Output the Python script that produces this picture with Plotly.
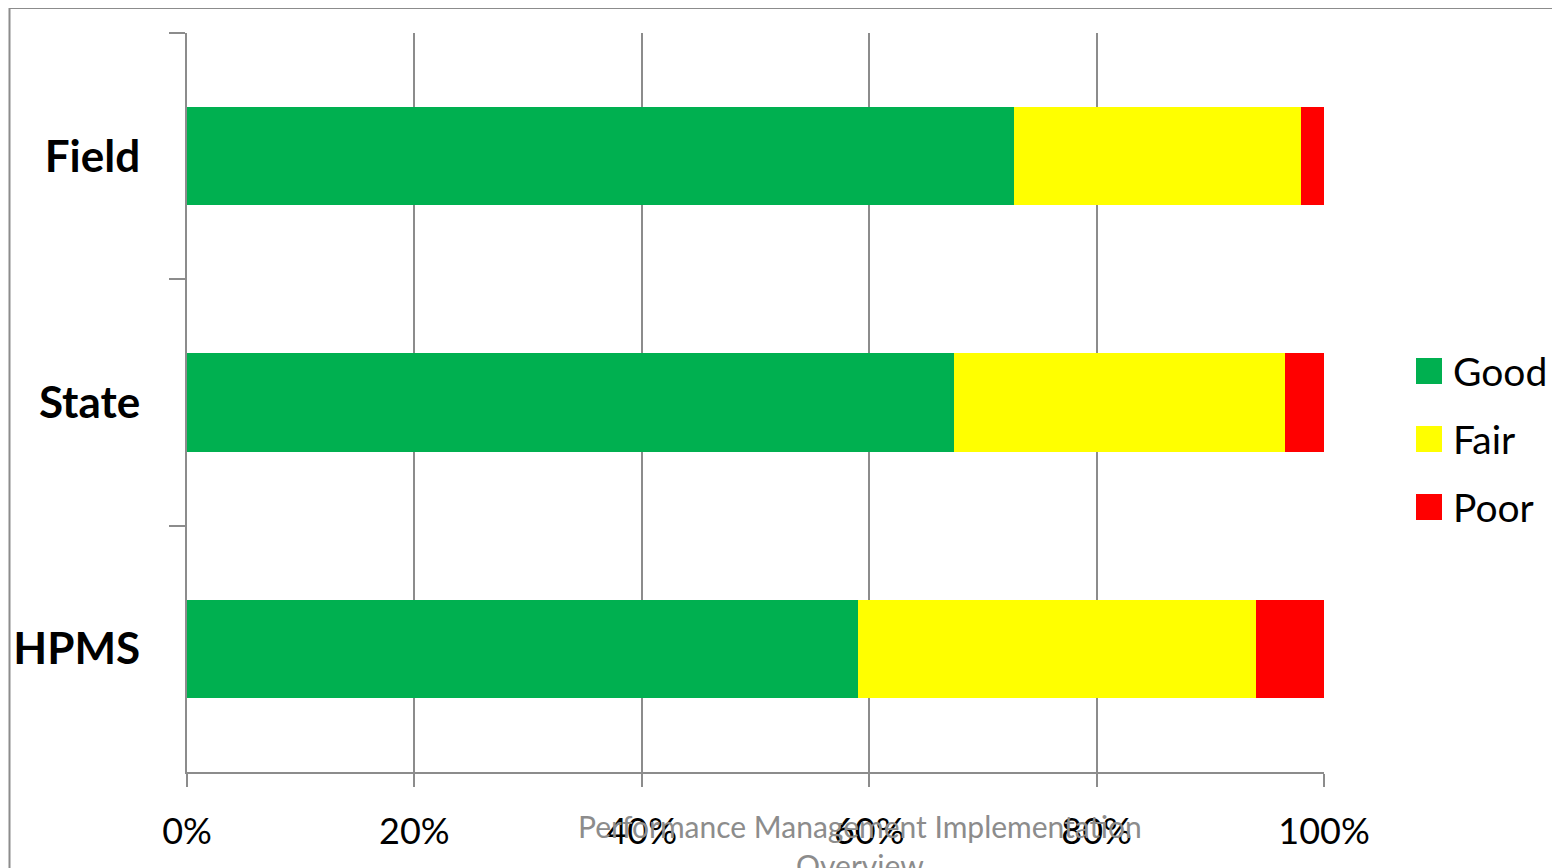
import plotly.graph_objects as go

categories = ["Field", "State", "HPMS"]
series_names = ["Good", "Fair", "Poor"]
good = [0.727, 0.675, 0.590]
fair = [0.253, 0.291, 0.350]
poor = [0.020, 0.034, 0.060]
colors = ["#00B050", "#FFFF00", "#FF0000"]
x_ticks = [0, 0.2, 0.4, 0.6, 0.8, 1.0]
x_tick_labels = ["0%", "20%", "40%", "60%", "80%", "100%"]
footer = "Performance Management Implementation<br>Overview"

FONT = "Lato, Calibri, sans-serif"
GRID = "#8c8c8c"

# page has an 8px body margin; plot area in page pixels: x 187..1324, y 33..772
OFF = 8
PW, PH = 1137, 739
L, T = 187 - OFF, 33 - OFF

fig = go.Figure()
for name, vals, col in zip(series_names, [good, fair, poor], colors):
    fig.add_trace(go.Bar(
        y=categories, x=vals, name=name, orientation="h",
        marker=dict(color=col, line=dict(width=0)),
        showlegend=False,
    ))

def px(x):
    return (x - 187) / PW

def py(y):
    return (772 - y) / PH

# manual legend (large square swatches as in reference)
shapes = []
annotations = []
for i, (name, col) in enumerate(zip(series_names, colors)):
    cy = py(371 + 68 * i)
    shapes.append(dict(type="rect", xref="paper", yref="paper",
                       x0=px(1416), x1=px(1442), y0=cy - 13 / PH, y1=cy + 13 / PH,
                       fillcolor=col, line=dict(width=0)))
    annotations.append(dict(xref="paper", yref="paper", x=px(1451), y=cy,
                            xanchor="left", yanchor="middle", text=name, showarrow=False,
                            font=dict(family=FONT, size=39, color="#000000")))

# outer chart frame (left edge kept just inside the figure so it stays visible)
shapes.append(dict(type="rect", xref="paper", yref="paper",
                   x0=px(9.5), x1=1.4, y0=-0.4, y1=py(8),
                   line=dict(color=GRID, width=2), fillcolor="rgba(0,0,0,0)", layer="below"))

annotations.append(dict(xref="paper", yref="paper", x=px(860), y=py(806),
                        xanchor="center", yanchor="top", text=footer, showarrow=False,
                        align="center",
                        font=dict(family=FONT, size=30, color="#8c8c8c")))

fig.update_layout(
    width=1560 - OFF, height=868 - OFF,
    margin=dict(l=L, r=1560 - OFF - L - PW, t=T, b=868 - OFF - T - PH, pad=0),
    paper_bgcolor="white", plot_bgcolor="white",
    barmode="stack", bargap=0.6,
    shapes=shapes, annotations=annotations,
    font=dict(family=FONT, color="#000000"),
)
fig.update_xaxes(
    range=[0, 1], tickvals=x_ticks, ticktext=x_tick_labels,
    showgrid=True, gridcolor=GRID, gridwidth=2,
    showline=True, linecolor=GRID, linewidth=2,
    ticks="outside", ticklen=13, tickcolor=GRID, tickwidth=2,
    ticklabelstandoff=14,
    tickfont=dict(family=FONT, size=36, color="#000000"),
    zeroline=False, fixedrange=True, automargin=False,
)
fig.update_yaxes(
    categoryorder="array", categoryarray=categories, autorange="reversed",
    showgrid=False, showline=True, linecolor=GRID, linewidth=2,
    ticks="outside", ticklen=16, tickcolor=GRID, tickwidth=2, tickson="boundaries",
    tickfont=dict(family=FONT, size=44, color="#000000", weight="bold"),
    ticklabelstandoff=36,
    zeroline=False, fixedrange=True, automargin=False,
)

fig.write_html("out.html")
